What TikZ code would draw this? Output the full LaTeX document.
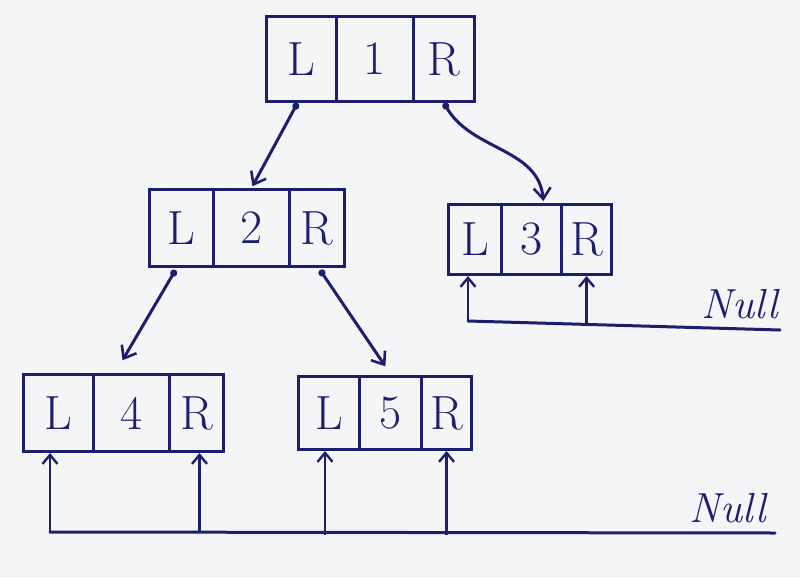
\documentclass[tikz,border=0pt]{standalone}
\usetikzlibrary{arrows.meta,calc}
\definecolor{ink}{HTML}{1C1E6E}
\definecolor{paper}{HTML}{F4F5F7}
\begin{document}
\begin{tikzpicture}[x=1pt,y=-1pt,
  cell/.style={draw=ink,line width=3pt,anchor=north west,inner sep=0pt,
     text=ink,font=\fontsize{48}{48}\selectfont},
  tree/.style={draw=ink,line width=3pt,{Circle[length=7pt]}-{Straight Barb[length=11pt,width=17pt,line width=2.6pt]},shorten >=2pt},
  up/.style={draw=ink,line width=2.6pt,-{Straight Barb[length=9pt,width=15pt,line width=2.4pt]}},
  base/.style={draw=ink,line width=3pt,line cap=round},
  nulltext/.style={text=ink,font=\fontsize{42}{42}\selectfont\itshape}]
\fill[paper] (0,0) rectangle (800,578);
\useasboundingbox (0,0) rectangle (800,578);
% node 1
\node[cell,minimum width=70pt,minimum height=85pt] (n1L) at (265,15) {L};
\node[cell,minimum width=77pt,minimum height=85pt] (n1v) at (335,15) {1};
\node[cell,minimum width=61pt,minimum height=85pt] (n1R) at (412,15) {R};
% node 2
\node[cell,minimum width=64pt,minimum height=77pt] (n2L) at (148,188) {L};
\node[cell,minimum width=76pt,minimum height=77pt] (n2v) at (212,188) {2};
\node[cell,minimum width=55pt,minimum height=77pt] (n2R) at (288,188) {R};
% node 3
\node[cell,minimum width=53pt,minimum height=70pt] (n3L) at (447,203) {L};
\node[cell,minimum width=60pt,minimum height=70pt] (n3v) at (500,203) {3};
\node[cell,minimum width=50pt,minimum height=70pt] (n3R) at (560,203) {R};
% node 4
\node[cell,minimum width=70pt,minimum height=77pt] (n4L) at (22,373) {L};
\node[cell,minimum width=76pt,minimum height=77pt] (n4v) at (92,373) {4};
\node[cell,minimum width=54pt,minimum height=77pt] (n4R) at (168,373) {R};
% node 5
\node[cell,minimum width=61pt,minimum height=73pt] (n5L) at (297,375) {L};
\node[cell,minimum width=62pt,minimum height=73pt] (n5v) at (358,375) {5};
\node[cell,minimum width=50pt,minimum height=73pt] (n5R) at (420,375) {R};
% tree pointers
\draw[tree] ($(n1L.south)+(-4,0)$) -- ($(n2v.north)$);
\draw[tree] (n1R.south) to[out=-60,in=95] ($(n3v.north)+(12,0)$);
\draw[tree] ($(n2L.south)+(-6,2)$) -- ($(n4v.north)+(-10,-11)$);
\draw[tree] ($(n2R.south)+(3,2)$) -- ($(n5v.north)+(-4,-7)$);
% null for node 3
\coordinate (b3s) at (468,321);
\coordinate (b3e) at (780,330);
\draw[base] (b3s) -- (b3e);
\draw[up] (b3s) -- (n3L.south west -| b3s);
\draw[up] ($(n3R.south)+(0,48)$) -- (n3R.south);
\node[nulltext] (null1) at (740,304) {Null};
% null for bottom
\coordinate (b4s) at (50,532);
\coordinate (b4e) at (775,533);
\draw[base] (b4s) -- (b4e);
\draw[up] (b4s) -- (n4L.south west -| b4s);
\draw[up] ($(n4R.south)+(3,78)$) -- ($(n4R.south)+(3,0)$);
\draw[up] ($(n5L.south)+(-4,84)$) -- ($(n5L.south)+(-4,0)$);
\draw[up] ($(n5R.south)+(0,84)$) -- (n5R.south);
\node[nulltext] (null2) at (728,508) {Null};
\end{tikzpicture}
\end{document}
